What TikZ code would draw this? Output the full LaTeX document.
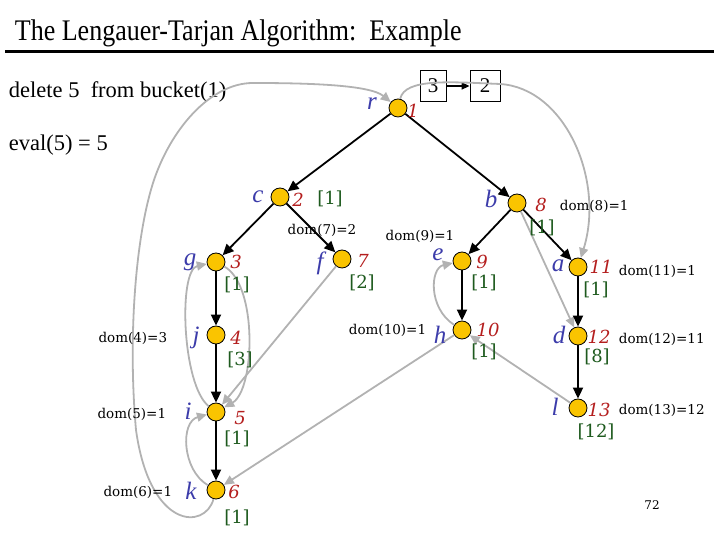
\documentclass[tikz,border=0pt]{standalone}
\usepackage{fontspec}
\setmainfont{Liberation Serif}
\newfontfamily\labelfont{DejaVu Serif}
\usepackage{xcolor}
\usetikzlibrary{arrows.meta}

\definecolor{vfill}{RGB}{250,196,0}
\definecolor{vname}{RGB}{60,60,170}
\definecolor{vnum}{RGB}{180,30,30}
\definecolor{vsemi}{RGB}{30,90,30}
\definecolor{nontree}{RGB}{178,178,178}

\begin{document}
\begin{tikzpicture}[x=1pt,y=1pt,line width=1.8pt,
  vtx/.style={circle,draw=black,line width=0.8pt,fill=vfill,minimum size=18pt,inner sep=0pt},
  vname/.style={font=\fontsize{25pt}{27pt}\selectfont\itshape,text=vname,inner sep=0pt},
  vnum/.style={font=\labelfont\fontsize{18pt}{20pt}\selectfont\itshape,text=vnum,inner sep=0pt},
  semi/.style={font=\labelfont\fontsize{18pt}{20pt}\selectfont,text=vsemi,inner sep=0pt},
  domlbl/.style={font=\labelfont\fontsize{13.5pt}{15pt}\selectfont,inner sep=0pt},
  tree/.style={-{Triangle[length=11pt,width=10pt]},black},
  back/.style={-{Triangle[length=10pt,width=9pt]},nontree},
  every node/.style={inner sep=0pt}]
  \useasboundingbox (0,0) rectangle (720,540);

  % heading
  \node[anchor=base west,font=\fontsize{26pt}{28pt}\selectfont] (title) at (14,499)
    {\scalebox{1}[1.15]{The Lengauer-Tarjan Algorithm:\ \ Example}};
  \draw[line width=3pt] (5,488) -- (714,488);
  \node[anchor=west,font=\fontsize{22.5pt}{24pt}\selectfont] (step1) at (8,448) {delete 5\ \ from bucket(1)};
  \node[anchor=west,font=\fontsize{22.5pt}{24pt}\selectfont] (step2) at (8,395) {eval(5) = 5};

  % bucket
  \node[draw,line width=0.8pt,minimum width=26pt,minimum height=31pt,font=\fontsize{21pt}{23pt}\selectfont] (bkt3) at (433,454) {3};
  \node[draw,line width=0.8pt,minimum width=30pt,minimum height=31pt,font=\fontsize{21pt}{23pt}\selectfont] (bkt2) at (485,454) {2};
  \draw[-{Triangle[length=8pt,width=7pt]},line width=1.6pt] (bkt3) -- (bkt2);

  % vertices
  \node[vtx] (r) at (398,432) {};
  \node[vtx] (c) at (280,343) {};
  \node[vtx] (g) at (216,278) {};
  \node[vtx] (j) at (216,205) {};
  \node[vtx] (i) at (216,128) {};
  \node[vtx] (k) at (216,50) {};
  \node[vtx] (f) at (342,281) {};
  \node[vtx] (b) at (517,337) {};
  \node[vtx] (e) at (462,279) {};
  \node[vtx] (h) at (462,210) {};
  \node[vtx] (a) at (578,273) {};
  \node[vtx] (d) at (578,204) {};
  \node[vtx] (l) at (578,132) {};

  % non-tree edges
  \draw[back] (k) .. controls (205,10) and (150,10) .. (136,110)
    .. controls (128,200) and (135,300) .. (153,357)
    .. controls (170,410) and (210,457) .. (253,457)
    .. controls (310,457) and (370,455) .. (r);
  \draw[back] (r) .. controls (405,462) and (450,458) .. (500,456)
    .. controls (565,452) and (605,360) .. (a);
  \draw[back] (b) -- (d);
  \draw[back] (l) -- (h);
  \draw[back] (h) -- (k);
  \draw[back] (f) -- (i);
  \draw[back] (i) .. controls (182,155) and (178,270) .. (g);
  \draw[back] (g) .. controls (258,255) and (255,150) .. (i);
  \draw[back] (k) .. controls (182,70) and (180,118) .. (i);
  \draw[back] (h) .. controls (428,232) and (430,272) .. (e);

  % tree edges
  \foreach \s/\t in {r/c,r/b,c/g,c/f,g/j,j/i,i/k,b/e,b/a,e/h,a/d,d/l}
    \draw[tree] (\s) -- (\t);

  % vertex labels
  \node[vname] (rn) at (372,436) {r};
  \node[vname] (cn) at (258,343) {c};
  \node[vname] (gn) at (190,278) {g};
  \node[vname] (jn) at (196,202) {j};
  \node[vname] (in) at (188,129) {i};
  \node[vname] (kn) at (191,49) {k};
  \node[vname] (fn) at (320,277) {f};
  \node[vname] (bn) at (491,341) {b};
  \node[vname] (en) at (438,285) {e};
  \node[vname] (hn) at (440,205) {h};
  \node[vname] (an) at (558,274) {a};
  \node[vname] (dn) at (559,205) {d};
  \node[vname] (ln) at (555,133) {l};

  % dfs numbers
  \node[vnum] (r1) at (413,429) {1};
  \node[vnum] (c2) at (298,340) {2};
  \node[vnum] (g3) at (236,278) {3};
  \node[vnum] (j4) at (236,202) {4};
  \node[vnum] (i5) at (240,122) {5};
  \node[vnum] (k6) at (234,48) {6};
  \node[vnum] (f7) at (363,279) {7};
  \node[vnum] (b8) at (541,335) {8};
  \node[vnum] (e9) at (482,278) {9};
  \node[vnum] (h10) at (488,210) {10};
  \node[vnum] (a11) at (601,273) {11};
  \node[vnum] (d12) at (599,203) {12};
  \node[vnum] (l13) at (599,130) {13};

  % semidominators
  \node[semi] (cs) at (330,341) {[1]};
  \node[semi] (gs) at (237,255) {[1]};
  \node[semi] (js) at (240,180) {[3]};
  \node[semi] (is) at (237,101) {[1]};
  \node[semi] (ks) at (237,22) {[1]};
  \node[semi] (fs) at (362,257) {[2]};
  \node[semi] (bs) at (542,312) {[1]};
  \node[semi] (es) at (484,257) {[1]};
  \node[semi] (hs) at (484,188) {[1]};
  \node[semi] (as) at (596,250) {[1]};
  \node[semi] (ds) at (597,183) {[8]};
  \node[semi] (ls) at (596,108) {[12]};

  % dominators found
  \node[domlbl] (dom7) at (322,310) {dom(7)=2};
  \node[domlbl,anchor=west] (dom8) at (559,334) {dom(8)=1};
  \node[domlbl] (dom9) at (420,304) {dom(9)=1};
  \node[domlbl,anchor=east] (dom4) at (168,202) {dom(4)=3};
  \node[domlbl,anchor=east] (dom5) at (167,126) {dom(5)=1};
  \node[domlbl,anchor=east] (dom6) at (173,48) {dom(6)=1};
  \node[domlbl,anchor=east] (dom10) at (427,210) {dom(10)=1};
  \node[domlbl,anchor=west] (dom11) at (618,269) {dom(11)=1};
  \node[domlbl,anchor=west] (dom12) at (618,201) {dom(12)=11};
  \node[domlbl,anchor=west] (dom13) at (618,130) {dom(13)=12};
  \node[domlbl,font=\labelfont\fontsize{12pt}{14pt}\selectfont] (page) at (652,35) {72};
\end{tikzpicture}
\end{document}
